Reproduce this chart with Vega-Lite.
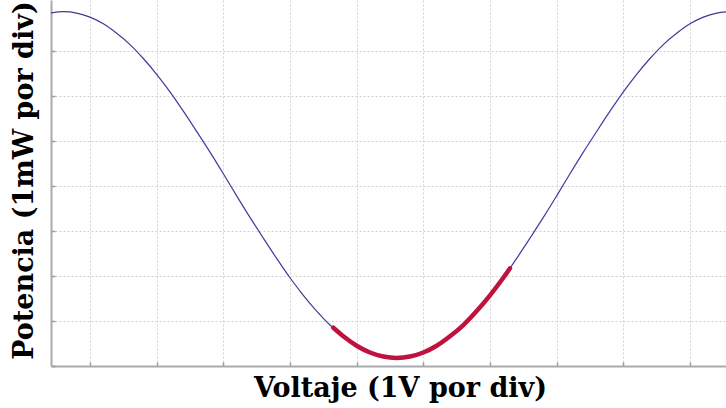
{
  "$schema": "https://vega.github.io/schema/vega-lite/v6.json",
  "width": 675,
  "height": 366,
  "autosize": {"type": "none"},
  "padding": {"left": 51, "top": 0, "right": 0, "bottom": 42},
  "background": "white",
  "config": {
    "view": {"stroke": null},
    "axis": {
      "labels": false,
      "tickSize": -4,
      "tickColor": "#999999",
      "tickWidth": 1.5,
      "domainColor": "#aaaaaa",
      "domainWidth": 2,
      "gridColor": "#d2d2d2",
      "gridDash": [2, 2],
      "gridWidth": 1,
      "titleFont": "DejaVu Serif",
      "titleFontWeight": "bold",
      "titleFontSize": 27,
      "titleColor": "#000000"
    }
  },
  "data": {
    "values": [
      {"v": -0.6, "p": 7.84, "s": "full"},
      {"v": -0.4, "p": 7.87, "s": "full"},
      {"v": -0.2, "p": 7.84, "s": "full"},
      {"v": 0.0, "p": 7.75, "s": "full"},
      {"v": 0.2, "p": 7.60, "s": "full"},
      {"v": 0.4, "p": 7.39, "s": "full"},
      {"v": 0.6, "p": 7.14, "s": "full"},
      {"v": 0.8, "p": 6.83, "s": "full"},
      {"v": 1.0, "p": 6.48, "s": "full"},
      {"v": 1.2, "p": 6.09, "s": "full"},
      {"v": 1.4, "p": 5.66, "s": "full"},
      {"v": 1.6, "p": 5.21, "s": "full"},
      {"v": 1.8, "p": 4.75, "s": "full"},
      {"v": 2.0, "p": 4.27, "s": "full"},
      {"v": 2.2, "p": 3.78, "s": "full"},
      {"v": 2.4, "p": 3.30, "s": "full"},
      {"v": 2.6, "p": 2.84, "s": "full"},
      {"v": 2.8, "p": 2.39, "s": "full"},
      {"v": 3.0, "p": 1.96, "s": "full"},
      {"v": 3.2, "p": 1.57, "s": "full"},
      {"v": 3.4, "p": 1.22, "s": "full"},
      {"v": 3.6, "p": 0.91, "s": "full"},
      {"v": 3.8, "p": 0.66, "s": "full"},
      {"v": 4.0, "p": 0.45, "s": "full"},
      {"v": 4.2, "p": 0.30, "s": "full"},
      {"v": 4.4, "p": 0.21, "s": "full"},
      {"v": 4.6, "p": 0.18, "s": "full"},
      {"v": 4.8, "p": 0.21, "s": "full"},
      {"v": 5.0, "p": 0.30, "s": "full"},
      {"v": 5.2, "p": 0.45, "s": "full"},
      {"v": 5.4, "p": 0.66, "s": "full"},
      {"v": 5.6, "p": 0.91, "s": "full"},
      {"v": 5.8, "p": 1.22, "s": "full"},
      {"v": 6.0, "p": 1.57, "s": "full"},
      {"v": 6.2, "p": 1.96, "s": "full"},
      {"v": 6.4, "p": 2.39, "s": "full"},
      {"v": 6.6, "p": 2.84, "s": "full"},
      {"v": 6.8, "p": 3.30, "s": "full"},
      {"v": 7.0, "p": 3.78, "s": "full"},
      {"v": 7.2, "p": 4.27, "s": "full"},
      {"v": 7.4, "p": 4.75, "s": "full"},
      {"v": 7.6, "p": 5.21, "s": "full"},
      {"v": 7.8, "p": 5.66, "s": "full"},
      {"v": 8.0, "p": 6.09, "s": "full"},
      {"v": 8.2, "p": 6.48, "s": "full"},
      {"v": 8.4, "p": 6.83, "s": "full"},
      {"v": 8.6, "p": 7.14, "s": "full"},
      {"v": 8.8, "p": 7.39, "s": "full"},
      {"v": 9.0, "p": 7.60, "s": "full"},
      {"v": 9.2, "p": 7.75, "s": "full"},
      {"v": 9.4, "p": 7.84, "s": "full"},
      {"v": 9.6, "p": 7.87, "s": "full"},
      {"v": 3.65, "p": 0.85, "s": "zona"},
      {"v": 3.8, "p": 0.66, "s": "zona"},
      {"v": 4.0, "p": 0.45, "s": "zona"},
      {"v": 4.2, "p": 0.30, "s": "zona"},
      {"v": 4.4, "p": 0.21, "s": "zona"},
      {"v": 4.6, "p": 0.18, "s": "zona"},
      {"v": 4.8, "p": 0.21, "s": "zona"},
      {"v": 5.0, "p": 0.30, "s": "zona"},
      {"v": 5.2, "p": 0.45, "s": "zona"},
      {"v": 5.4, "p": 0.66, "s": "zona"},
      {"v": 5.6, "p": 0.91, "s": "zona"},
      {"v": 5.8, "p": 1.22, "s": "zona"},
      {"v": 6.0, "p": 1.57, "s": "zona"},
      {"v": 6.2, "p": 1.96, "s": "zona"},
      {"v": 6.3, "p": 2.17, "s": "zona"}
    ]
  },
  "encoding": {
    "x": {
      "field": "v",
      "type": "quantitative",
      "scale": {"domain": [-0.585, 9.54], "nice": false, "zero": false},
      "axis": {"title": "Voltaje (1V por div)", "values": [0, 1, 2, 3, 4, 5, 6, 7, 8, 9], "titlePadding": 9, "titleX": 349}
    },
    "y": {
      "field": "p",
      "type": "quantitative",
      "scale": {"domain": [0, 8.13], "nice": false},
      "axis": {"title": "Potencia (1mW por div)", "values": [0, 1, 2, 3, 4, 5, 6, 7], "titlePadding": 12, "titleY": 180}
    }
  },
  "layer": [
    {
      "transform": [{"filter": "datum.s === 'full'"}],
      "mark": {"type": "line", "color": "#3c3c9c", "strokeWidth": 1.2, "clip": true, "interpolate": "monotone"}
    },
    {
      "transform": [{"filter": "datum.s === 'zona'"}],
      "mark": {"type": "line", "color": "#c0123e", "strokeWidth": 4.5, "strokeCap": "round", "interpolate": "monotone"}
    }
  ]
}
